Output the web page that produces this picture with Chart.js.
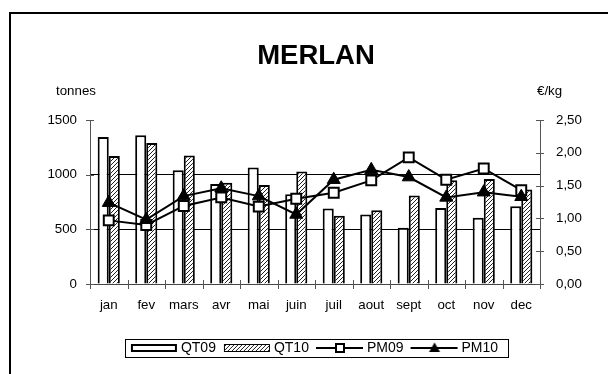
<!DOCTYPE html>
<html><head><meta charset="utf-8">
<script src="https://cdn.jsdelivr.net/npm/chart.js@4/dist/chart.umd.min.js"></script>
<style>html,body{margin:0;padding:0;background:#fff;}#wrap{width:608px;height:374px;}</style>
</head><body><div id="wrap"><canvas id="c" width="608" height="374"></canvas></div>
<script>
const categories = ['jan','fev','mars','avr','mai','juin','juil','aout','sept','oct','nov','dec'];
const qt09 = [1345, 1360, 1040, 915, 1065, 820, 690, 635, 515, 695, 605, 710];
const qt10 = [1170, 1290, 1175, 925, 905, 1030, 625, 675, 810, 950, 960, 865];
const pm09 = [0.97, 0.90, 1.19, 1.32, 1.18, 1.30, 1.39, 1.58, 1.93, 1.59, 1.76, 1.43];
const pm10 = [1.24, 0.98, 1.34, 1.46, 1.34, 1.06, 1.59, 1.74, 1.63, 1.32, 1.40, 1.33];
const leftTicks = [0, 500, 1000, 1500];
const rightTicks = [0, 0.5, 1, 1.5, 2, 2.5];
const seriesNames = ['QT09', 'QT10', 'PM09', 'PM10'];
const chartTitle = 'MERLAN';
const leftUnit = 'tonnes';
const rightUnit = '€/kg';

const FONT = "Arial, 'Liberation Sans', sans-serif";
const canvas = document.getElementById('c');
const ctx = canvas.getContext('2d');

function hatchCanvas() {
  const c = document.createElement('canvas'); c.width = 4; c.height = 4;
  const g = c.getContext('2d');
  g.fillStyle = '#fff'; g.fillRect(0, 0, 4, 4);
  g.strokeStyle = '#222'; g.lineWidth = 1;
  g.beginPath();
  g.moveTo(0, 4); g.lineTo(4, 0);
  g.moveTo(-1, 1); g.lineTo(1, -1);
  g.moveTo(3, 5); g.lineTo(5, 3);
  g.stroke();
  return c;
}
const hatch = ctx.createPattern(hatchCanvas(), 'repeat');

function swatch(kind) {
  const c = document.createElement('canvas'); c.width = 50; c.height = 14;
  const g = c.getContext('2d');
  if (kind === 0) {
    g.fillStyle = '#fff'; g.fillRect(2, 4, 45, 7);
    g.strokeStyle = '#000'; g.lineWidth = 2; g.strokeRect(3, 4, 44, 6);
  } else if (kind === 1) {
    g.fillStyle = g.createPattern(hatchCanvas(), 'repeat'); g.fillRect(2, 3.5, 46, 7);
    g.strokeStyle = '#000'; g.lineWidth = 1; g.strokeRect(2.5, 3.5, 45, 7);
  } else {
    g.strokeStyle = '#000'; g.lineWidth = 2;
    g.beginPath(); g.moveTo(1, 7); g.lineTo(48, 7); g.stroke();
    if (kind === 2) {
      g.fillStyle = '#fff'; g.fillRect(21, 3, 8, 8);
      g.strokeRect(21, 3, 8, 8);
    } else {
      g.fillStyle = '#000';
      g.beginPath(); g.moveTo(25, 1.5); g.lineTo(30.5, 11); g.lineTo(19.5, 11); g.closePath(); g.fill();
    }
  }
  return c;
}
const swatches = [swatch(0), swatch(1), swatch(2), swatch(3)];

const decor = {
  id: 'decor',
  afterDraw(chart) {
    const g = chart.ctx, ca = chart.chartArea, s = chart.scales;
    g.save();
    // outer frame
    g.fillStyle = '#000';
    g.fillRect(9, 12, 2, 362);
    g.fillRect(9, 12, 599, 2);
    // title & units
    g.textBaseline = 'alphabetic';
    g.textAlign = 'center';
    g.font = 'bold 27.5px ' + FONT;
    g.fillText(chartTitle, (ca.left + ca.right) / 2 + 1, 64);
    g.font = '13.3px ' + FONT;
    g.textAlign = 'left';
    g.fillText(leftUnit, 56, 95);
    g.fillText(rightUnit, 537, 95);
    // cross tick marks
    g.strokeStyle = '#555'; g.lineWidth = 1;
    g.beginPath();
    leftTicks.forEach(v => { const y = Math.round(s.y.getPixelForValue(v)) + 0.5; g.moveTo(ca.left - 4, y); g.lineTo(ca.left + 4, y); });
    rightTicks.forEach(v => { const y = Math.round(s.y1.getPixelForValue(v)) + 0.5; g.moveTo(ca.right - 4, y); g.lineTo(ca.right + 4, y); });
    const x0 = s.x.getPixelForValue(0), step = s.x.getPixelForValue(1) - x0;
    for (let i = 0; i <= categories.length; i++) {
      const x = Math.round(x0 - step / 2 + i * step) + 0.5;
      g.moveTo(x, ca.bottom - 4); g.lineTo(x, ca.bottom + 5);
    }
    g.stroke();
    // legend frame
    const hb = chart.legend.legendHitBoxes;
    if (hb && hb.length) {
      const l = Math.min(...hb.map(h => h.left)), r = Math.max(...hb.map(h => h.left + h.width));
      const cy = hb[0].top + hb[0].height / 2;
      g.strokeStyle = '#000'; g.lineWidth = 1;
      g.strokeRect(Math.round(l - 9) + 0.5, Math.round(cy - 9) + 0.5, Math.round(r - l + 19), 18);
    }
    g.restore();
  }
};

new Chart(ctx, {
  data: {
    labels: categories,
    datasets: [
      { type: 'bar', label: seriesNames[0], data: qt09, yAxisID: 'y', backgroundColor: '#fff', borderColor: '#000', borderWidth: 2, order: 2, categoryPercentage: 0.59, barPercentage: 1 },
      { type: 'bar', label: seriesNames[1], data: qt10, yAxisID: 'y', backgroundColor: hatch, borderColor: '#000', borderWidth: 2, order: 2, categoryPercentage: 0.59, barPercentage: 1 },
      { type: 'line', label: seriesNames[2], data: pm09, yAxisID: 'y1', borderColor: '#000', borderWidth: 2, pointStyle: 'rect', pointRadius: 7, pointBackgroundColor: '#fff', pointBorderColor: '#000', pointBorderWidth: 2, tension: 0, order: 1 },
      { type: 'line', label: seriesNames[3], data: pm10, yAxisID: 'y1', borderColor: '#000', borderWidth: 2, pointStyle: 'triangle', pointRadius: 7.5, pointBackgroundColor: '#000', pointBorderColor: '#000', pointBorderWidth: 1, tension: 0, order: 0 }
    ]
  },
  options: {
    responsive: false,
    animation: false,
    devicePixelRatio: 1,
    layout: { padding: { left: 24, right: 0, top: 120, bottom: 9 } },
    plugins: {
      tooltip: { enabled: false },
      title: { display: false },
      legend: {
        position: 'bottom',
        labels: {
          usePointStyle: true, pointStyleWidth: 40, boxHeight: 13, padding: 11,
          color: '#000', font: { size: 14, family: FONT },
          generateLabels: () => seriesNames.map((n, i) => ({ text: n, datasetIndex: i, pointStyle: swatches[i], fillStyle: '#000', strokeStyle: '#000', lineWidth: 0, hidden: false, fontColor: '#000' }))
        }
      }
    },
    scales: {
      x: {
        offset: true,
        afterFit: s => { s.height = 46; },
        grid: { display: true, drawOnChartArea: false, drawTicks: false, offset: true, color: 'rgba(0,0,0,0)' },
        border: { display: true, color: '#444', width: 1 },
        ticks: { color: '#000', padding: 13, font: { size: 13.3, family: FONT }, maxRotation: 0, autoSkip: false }
      },
      y: {
        position: 'left', min: 0, max: 1500,
        afterFit: s => { s.width = 66; },
        afterBuildTicks: s => { s.ticks = leftTicks.map(v => ({ value: v })); },
        grid: { drawTicks: false, color: c => (c.tick && (c.tick.value === 500 || c.tick.value === 1000)) ? '#000' : 'rgba(0,0,0,0)', lineWidth: 1 },
        border: { display: true, color: '#555', width: 1 },
        ticks: { color: '#000', padding: 13, font: { size: 13.3, family: FONT }, callback: v => String(v) }
      },
      y1: {
        position: 'right', min: 0, max: 2.5,
        afterFit: s => { s.width = 68; },
        afterBuildTicks: s => { s.ticks = rightTicks.map(v => ({ value: v })); },
        grid: { display: true, drawOnChartArea: false, drawTicks: false, color: 'rgba(0,0,0,0)' },
        border: { display: true, color: '#555', width: 1 },
        ticks: { color: '#000', padding: 16, font: { size: 13.3, family: FONT }, callback: v => v.toFixed(2).replace('.', ',') }
      }
    }
  },
  plugins: [decor]
});
</script>
</body></html>
